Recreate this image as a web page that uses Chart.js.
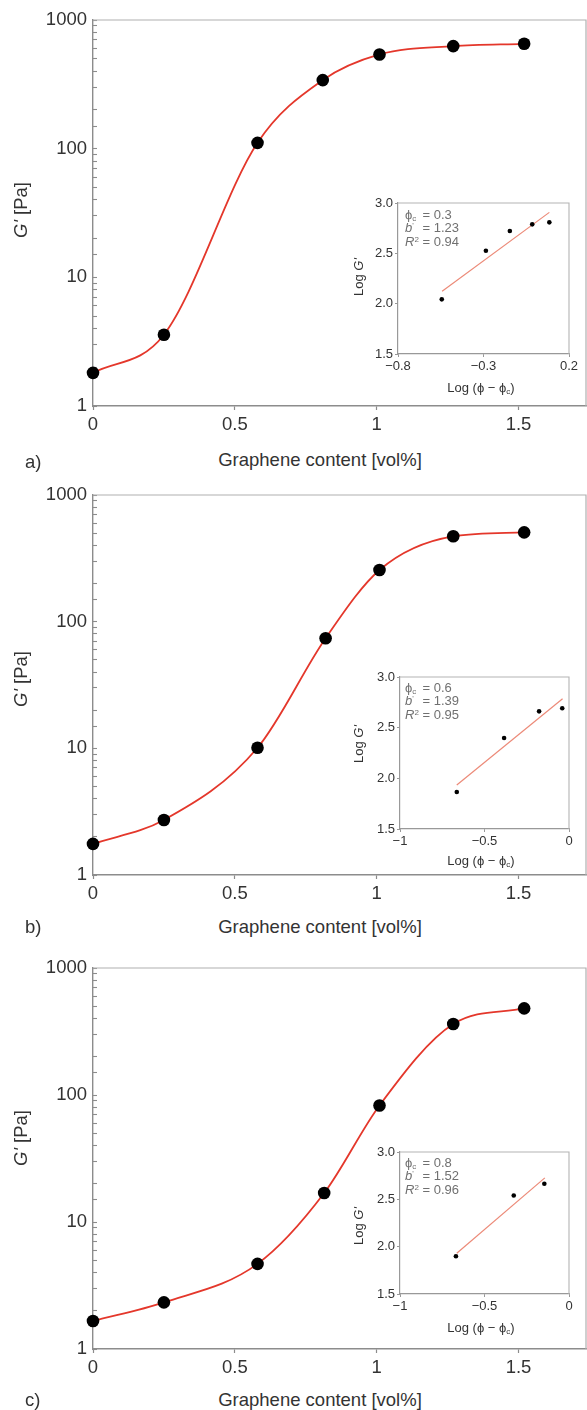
<!DOCTYPE html>
<html>
<head>
<meta charset="utf-8">
<script src="https://cdn.jsdelivr.net/npm/chart.js@4.4.1/dist/chart.umd.min.js"></script>
<style>
  html, body { margin: 0; padding: 0; background: #fff; }
  body { width: 587px; height: 1410px; position: relative; overflow: hidden;
         font-family: "Liberation Sans", Arial, Helvetica, sans-serif; color: #333; }
  .cv { position: absolute; }
  .t { position: absolute; white-space: nowrap; line-height: 1; }
  .main { font-size: 18.5px; }
  .small { font-size: 13px; }
  .rot { transform: translate(-50%, -50%) rotate(-90deg); }
  .ctr { transform: translate(-50%, -50%); }
  .lbl { transform: translate(0, -50%); }
  .ann { position: absolute; font-size: 13px; color: #707070; line-height: 13.3px; }
  .ann div { display: flex; white-space: nowrap; }
  .ann .k { width: 17.5px; display: inline-block; }
  sub { font-size: 62%; vertical-align: -0.25em; line-height: 0; }
  sup { font-size: 62%; vertical-align: 0.55em; line-height: 0; }
</style>
</head>
<body>

<!-- panel a -->
<canvas id="mainA" class="cv" style="left:0;top:10px;width:587px;height:426px"></canvas>
<canvas id="insA" class="cv" style="left:366px;top:195px;width:213px;height:183px"></canvas>
<div class="t main rot" style="left:21px;top:210px"><i>G'</i> [Pa]</div>
<div class="t main ctr" style="left:320px;top:460px">Graphene content [vol%]</div>
<div class="t main lbl" style="left:25px;top:462px">a)</div>
<div class="t small rot" style="left:358px;top:277px">Log <i>G'</i></div>
<div class="t small ctr" style="left:481px;top:387px">Log (ϕ − ϕ<sub>c</sub>)</div>
<div class="ann" style="left:405px;top:208px">
  <div><span class="k">ϕ<sub>c</sub></span><span>= 0.3</span></div>
  <div><span class="k"><i>b</i><sup>'</sup></span><span>= 1.23</span></div>
  <div><span class="k"><i>R</i><sup>2</sup></span><span>= 0.94</span></div>
</div>

<!-- panel b -->
<canvas id="mainB" class="cv" style="left:0;top:485px;width:587px;height:420px"></canvas>
<canvas id="insB" class="cv" style="left:368px;top:669px;width:211px;height:184px"></canvas>
<div class="t main rot" style="left:21px;top:679px"><i>G'</i> [Pa]</div>
<div class="t main ctr" style="left:320px;top:927px">Graphene content [vol%]</div>
<div class="t main lbl" style="left:25px;top:927px">b)</div>
<div class="t small rot" style="left:358px;top:744px">Log <i>G'</i></div>
<div class="t small ctr" style="left:481px;top:860px">Log (ϕ − ϕ<sub>c</sub>)</div>
<div class="ann" style="left:405px;top:681px">
  <div><span class="k">ϕ<sub>c</sub></span><span>= 0.6</span></div>
  <div><span class="k"><i>b</i><sup>'</sup></span><span>= 1.39</span></div>
  <div><span class="k"><i>R</i><sup>2</sup></span><span>= 0.95</span></div>
</div>

<!-- panel c -->
<canvas id="mainC" class="cv" style="left:0;top:958px;width:587px;height:421px"></canvas>
<canvas id="insC" class="cv" style="left:368px;top:1144px;width:211px;height:174px"></canvas>
<div class="t main rot" style="left:21px;top:1138px"><i>G'</i> [Pa]</div>
<div class="t main ctr" style="left:320px;top:1400px">Graphene content [vol%]</div>
<div class="t main lbl" style="left:25px;top:1400px">c)</div>
<div class="t small rot" style="left:358px;top:1226px">Log <i>G'</i></div>
<div class="t small ctr" style="left:481px;top:1327px">Log (ϕ − ϕ<sub>c</sub>)</div>
<div class="ann" style="left:405px;top:1156px">
  <div><span class="k">ϕ<sub>c</sub></span><span>= 0.8</span></div>
  <div><span class="k"><i>b</i><sup>'</sup></span><span>= 1.52</span></div>
  <div><span class="k"><i>R</i><sup>2</sup></span><span>= 0.96</span></div>
</div>

<script>
// ---------------- data ----------------
// main charts: graphene content [vol%] vs G' [Pa]
const contentA = [0, 0.25, 0.58, 0.81, 1.01, 1.27, 1.52];
const modulusA = [1.81, 3.58, 111, 341, 540, 627, 653];

const contentB = [0, 0.25, 0.58, 0.82, 1.01, 1.27, 1.52];
const modulusB = [1.76, 2.72, 10.1, 74, 256, 472, 507];

const contentC = [0, 0.25, 0.58, 0.815, 1.01, 1.27, 1.52];
const modulusC = [1.66, 2.33, 4.68, 16.9, 82.7, 362, 481];

// insets: Log(phi - phi_c) vs Log G'
const insetAx = [-0.544, -0.286, -0.146, -0.015, 0.085];
const insetAy = [2.043, 2.526, 2.722, 2.788, 2.808];
const fitAx = [-0.542, 0.085];
const fitAy = [2.123, 2.907];

const insetBx = [-0.664, -0.384, -0.177, -0.040];
const insetBy = [1.865, 2.398, 2.661, 2.691];
const fitBx = [-0.664, -0.038];
const fitBy = [1.934, 2.786];

const insetCx = [-0.669, -0.327, -0.146];
const insetCy = [1.899, 2.541, 2.664];
const fitCx = [-0.664, -0.143];
const fitCy = [1.931, 2.727];

// axis ranges / ticks
const mainXRange = [0, 1.738];
const mainXStep = 0.5;
const mainYRange = [1, 1000];
const insetARange = [-0.8, 0.2];
const insetBCRange = [-1, 0];
const insetXStep = 0.5;
const insetYRange = [1.5, 3.0];
const insetYStep = 0.5;

// ---------------- helpers ----------------
const FONT = '"Liberation Sans", Arial, Helvetica, sans-serif';
const pts = (xs, ys) => xs.map((x, i) => ({ x: x, y: ys[i] }));
const fmtMinus = v => { const r = Math.round(v * 10) / 10; return String(r).replace('-', '\u2212'); };

const framePlugin = {
  id: 'frame',
  beforeDatasetsDraw(chart, args, opts) {
    const { ctx, chartArea: a } = chart;
    ctx.save();
    ctx.strokeStyle = opts.color || '#aaa';
    ctx.lineWidth = opts.width || 1;
    ctx.beginPath();
    ctx.moveTo(a.left, a.top);
    ctx.lineTo(a.right, a.top);
    ctx.lineTo(a.right, a.bottom);
    ctx.stroke();
    ctx.restore();
  }
};

function fixX(h) { return s => { s.height = h; s.paddingLeft = 0; s.paddingRight = 0; }; }
function fixY(w) { return s => { s.width = w; s.paddingTop = 0; s.paddingBottom = 0; }; }

function makeMain(id, xs, ys) {
  const data = pts(xs, ys);
  return new Chart(document.getElementById(id), {
    type: 'scatter',
    data: {
      datasets: [
        { data: data, pointRadius: 6.3, pointHoverRadius: 6.3, backgroundColor: '#000', borderWidth: 0,
          showLine: false, clip: false, order: 0 },
        { data: data, showLine: true, pointRadius: 0, borderColor: '#e4372b', borderWidth: 1.8,
          cubicInterpolationMode: 'monotone', fill: false, order: 1 }
      ]
    },
    options: {
      responsive: false, animation: false, devicePixelRatio: 1,
      layout: { autoPadding: false, padding: { top: 10, right: 1, left: 0, bottom: 0 } },
      plugins: { legend: { display: false }, tooltip: { enabled: false },
                 frame: { color: '#b0b0b0', width: 1.2 } },
      scales: {
        x: {
          type: 'linear', min: mainXRange[0], max: mainXRange[1],
          afterFit: fixX(30),
          border: { display: true, color: '#8c8c8c', width: 1.4 },
          grid: { drawOnChartArea: false, drawTicks: true, tickLength: 4, color: '#8c8c8c', tickWidth: 1.2 },
          ticks: { stepSize: mainXStep, includeBounds: false, padding: 4, color: '#333',
                   font: { family: FONT, size: 18.5 }, maxRotation: 0,
                   callback: v => String(Math.round(v * 10) / 10) }
        },
        y: {
          type: 'logarithmic', min: mainYRange[0], max: mainYRange[1],
          afterFit: fixY(93),
          border: { display: true, color: '#8c8c8c', width: 1.4 },
          grid: { drawOnChartArea: false, drawTicks: true, tickLength: -4, color: '#8c8c8c', tickWidth: 1.1 },
          ticks: { autoSkip: false, padding: 10, color: '#333', font: { family: FONT, size: 18.5 },
                   callback: v => { const l = Math.log10(v); return Math.abs(l - Math.round(l)) < 1e-9 ? String(Math.round(v)) : ''; } }
        }
      }
    },
    plugins: [framePlugin]
  });
}

function makeInset(id, xs, ys, fx, fy, xr) {
  return new Chart(document.getElementById(id), {
    type: 'scatter',
    data: {
      datasets: [
        { data: pts(xs, ys), pointRadius: 2.3, pointHoverRadius: 2.3, backgroundColor: '#000', borderWidth: 0,
          showLine: false, clip: false, order: 0 },
        { data: pts(fx, fy), showLine: true, pointRadius: 0, borderColor: '#ec8a78', borderWidth: 1.2,
          fill: false, order: 1 }
      ]
    },
    options: {
      responsive: false, animation: false, devicePixelRatio: 1,
      layout: { autoPadding: false, padding: { top: 8, right: 10, left: 0, bottom: 0 } },
      plugins: { legend: { display: false }, tooltip: { enabled: false },
                 frame: { color: '#b4b4b4', width: 1.1 } },
      scales: {
        x: {
          type: 'linear', min: xr[0], max: xr[1],
          afterFit: fixX(24),
          border: { display: true, color: '#999', width: 1.2 },
          grid: { drawOnChartArea: false, drawTicks: true, tickLength: 3, color: '#999' },
          ticks: { stepSize: insetXStep, includeBounds: false, padding: 2, color: '#333', maxRotation: 0,
                   font: { family: FONT, size: 13 }, callback: v => fmtMinus(v) }
        },
        y: {
          type: 'linear', min: insetYRange[0], max: insetYRange[1],
          afterFit: fixY(32),
          border: { display: true, color: '#999', width: 1.2 },
          grid: { drawOnChartArea: false, drawTicks: true, tickLength: 3, color: '#999' },
          ticks: { stepSize: insetYStep, padding: 2, color: '#333',
                   font: { family: FONT, size: 13 }, callback: v => v.toFixed(1) }
        }
      }
    },
    plugins: [framePlugin]
  });
}

makeMain('mainA', contentA, modulusA);
makeMain('mainB', contentB, modulusB);
makeMain('mainC', contentC, modulusC);
makeInset('insA', insetAx, insetAy, fitAx, fitAy, insetARange);
makeInset('insB', insetBx, insetBy, fitBx, fitBy, insetBCRange);
makeInset('insC', insetCx, insetCy, fitCx, fitCy, insetBCRange);
</script>
</body>
</html>
